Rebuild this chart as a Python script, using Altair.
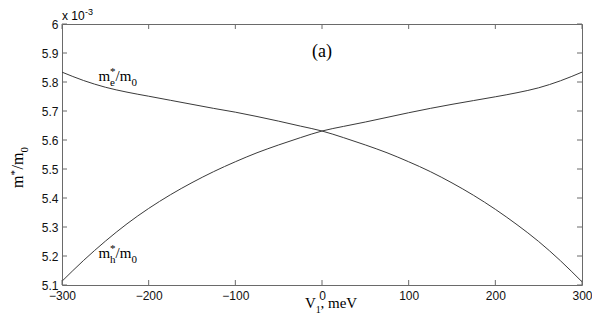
import altair as alt
import pandas as pd

# ---- data ----
V = [-300, -275, -250, -225, -200, -175, -150, -125, -100, -75, -50, -25, 0,
     25, 50, 75, 100, 125, 150, 175, 200, 225, 250, 275, 300]
m_e = [5.834, 5.805, 5.782, 5.765, 5.751, 5.737, 5.723, 5.709, 5.696, 5.681, 5.665, 5.648, 5.631,
       5.608, 5.583, 5.556, 5.525, 5.491, 5.452, 5.409, 5.361, 5.308, 5.250, 5.184, 5.111]
m_h = [5.113, 5.185, 5.251, 5.311, 5.364, 5.411, 5.453, 5.491, 5.525, 5.556, 5.583, 5.608, 5.631,
       5.647, 5.662, 5.678, 5.694, 5.709, 5.723, 5.736, 5.749, 5.763, 5.780, 5.804, 5.834]
x_ticks = [-300, -200, -100, 0, 100, 200, 300]
y_ticks = [5.1, 5.2, 5.3, 5.4, 5.5, 5.6, 5.7, 5.8, 5.9, 6.0]

label_e_anchor = (-258, 5.803)
label_h_anchor = (-258, 5.193)
panel_anchor = (0, 5.886)
panel_text = "(a)"

W, H = 520, 261
SERIF = "Liberation Serif"
SANS = "Liberation Sans"
LINE = "#3a3a3a"
FRAME = "#6a6a6a"

xs = alt.Scale(domain=[-300, 300], nice=False, zero=False)
ys = alt.Scale(domain=[5.1, 6.0], nice=False, zero=False)

XAX = alt.Axis(values=x_ticks, ticks=False, domain=False, grid=False, title=None,
               labelFont=SANS, labelFontSize=12, labelColor="#111", labelPadding=5,
               labelFlush=False, labelOverlap=False)
YAX = alt.Axis(values=y_ticks, ticks=False, domain=False, grid=False, title=None, format="~g",
               labelFont=SANS, labelFontSize=12, labelColor="#111", labelPadding=4,
               labelFlush=False, labelOverlap=False)

df = pd.DataFrame({
    "V": V * 2,
    "m": m_e + m_h,
    "s": ["e"] * len(V) + ["h"] * len(V),
})

lines = alt.Chart(df).mark_line(strokeWidth=1, color=LINE, interpolate="monotone").encode(
    x=alt.X("V:Q", scale=xs, axis=XAX),
    y=alt.Y("m:Q", scale=ys, axis=YAX),
    detail="s:N",
)

xt = pd.DataFrame({"t": x_ticks})
yt = pd.DataFrame({"t": y_ticks})
tick_layers = [
    alt.Chart(xt).mark_rule(color=FRAME, strokeWidth=1).encode(
        x=alt.X("t:Q", scale=xs, axis=XAX), y=alt.value(H), y2=alt.value(H - 5)),
    alt.Chart(xt).mark_rule(color=FRAME, strokeWidth=1).encode(
        x=alt.X("t:Q", scale=xs, axis=XAX), y=alt.value(0), y2=alt.value(5)),
    alt.Chart(yt).mark_rule(color=FRAME, strokeWidth=1).encode(
        y=alt.Y("t:Q", scale=ys, axis=YAX), x=alt.value(0), x2=alt.value(5)),
    alt.Chart(yt).mark_rule(color=FRAME, strokeWidth=1).encode(
        y=alt.Y("t:Q", scale=ys, axis=YAX), x=alt.value(W - 5), x2=alt.value(W)),
]


def data_text(txt, ax, ay, dx=0, dy=0, size=15, font=SERIF, align="left"):
    d = pd.DataFrame({"x": [ax], "y": [ay], "t": [txt]})
    return alt.Chart(d).mark_text(
        align=align, baseline="alphabetic", dx=dx, dy=dy, fontSize=size,
        font=font, color="#000").encode(
        x=alt.X("x:Q", scale=xs, axis=XAX),
        y=alt.Y("y:Q", scale=ys, axis=YAX),
        text="t:N")


def px_text(txt, px, py, dx=0, dy=0, size=15, font=SERIF, angle=0, align="left"):
    d = pd.DataFrame({"t": [txt]})
    kw = dict(align=align, baseline="alphabetic", dx=dx, dy=dy, fontSize=size,
              font=font, color="#000")
    if angle:
        kw["angle"] = angle
    return alt.Chart(d).mark_text(**kw).encode(
        x=alt.value(px), y=alt.value(py), text="t:N")


def mass_label(sub, ax, ay):
    return [
        data_text("m", ax, ay, 0, 0, 15),
        data_text("*", ax, ay, 11.7, -6, 11),
        data_text(sub, ax, ay, 11.7, 5, 11),
        data_text("/m", ax, ay, 17.2, 0, 15),
        data_text("0", ax, ay, 33, 5, 11),
    ]


texts = []
texts += mass_label("e", *label_e_anchor)
texts += mass_label("h", *label_h_anchor)
texts.append(data_text(panel_text, *panel_anchor, size=18, align="center"))

# x-axis title: V_1, meV
xt_x, xt_y = 243, 284
texts += [
    px_text("V", xt_x, xt_y, 0, 0, 15),
    px_text("1", xt_x, xt_y, 10.8, 5, 10),
    px_text(", meV", xt_x, xt_y, 15.5, 0, 15),
]
# y-axis title: m*/m0 (rotated)
yt_x, yt_y = -39, 164
texts += [
    px_text("m", yt_x, yt_y, 0, 0, 16, angle=270),
    px_text("*", yt_x, yt_y, 12.4, -5, 11, angle=270),
    px_text("/m", yt_x, yt_y, 18.5, 0, 16, angle=270),
    px_text("0", yt_x, yt_y, 35.5, 5, 11, angle=270),
]
# exponent note: x 10^-3
texts += [
    px_text("x 10", 0, -4, 0, 0, 12, font=SANS),
    px_text("-3", 23, -9, 0, 0, 9, font=SANS),
]

chart = alt.layer(lines, *tick_layers, *texts).properties(
    width=W, height=H,
    padding={"left": 54, "top": 16, "right": 10, "bottom": 29},
    autosize=alt.AutoSizeParams(type="none"),
    background="white",
).configure_view(stroke=FRAME, strokeWidth=1).configure_axis(grid=False)

chart.save("out.html", embed_options={"renderer": "svg", "actions": False})
